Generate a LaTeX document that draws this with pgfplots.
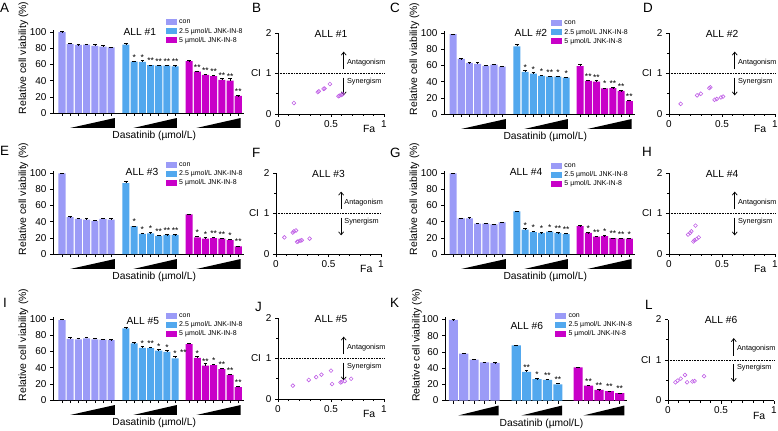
\documentclass[border=0pt]{standalone}
\usepackage{fontspec}
\setmainfont{Liberation Sans}
\usepackage{pgfplots}
\pgfplotsset{compat=1.18}
\usetikzlibrary{arrows.meta}

\definecolor{cCon}{HTML}{9B9BF7}
\definecolor{cLow}{HTML}{52A8EE}
\definecolor{cHigh}{HTML}{C800C8}
\definecolor{cPt}{HTML}{C060E6}

\newcommand{\fs}[1]{\fontsize{#1}{#1}\selectfont}

\pgfplotsset{
  every axis/.append style={
    scale only axis, axis x line*=bottom, axis y line*=left,
    axis line style={line width=0.6bp, -},
    tick style={black, line width=0.6bp},
    tick align=outside, major tick length=3bp, minor tick length=2bp,
    tick label style={font=\fs{10}},
    /pgf/number format/assume math mode=true,
    clip=false,
  },
  eb/.style={error bars/.cd, y dir=plus, y explicit,
    error bar style={line width=0.6bp, black},
    error mark options={rotate=90, mark size=1.8bp, line width=0.6bp, black}},
  pts/.style={only marks, mark=o, mark size=1.9bp, cPt, line width=0.6bp},
  barbase/.style={
    height=83.4bp, ymin=0, ymax=103,
    ybar, bar shift=0pt,
    ytick={0,20,...,100}, xticklabels={},
    ylabel={Relative cell viability (\%)},
    ylabel style={at={(axis description cs:-0.155,0.66)}, anchor=center, font=\fs{10.5}},
    xlabel={Dasatinib (µmol/L)},
    xlabel style={at={(axis description cs:0.53,0)}, anchor=center, yshift=-23bp, font=\fs{10.3}},
    nodes near coords, point meta=explicit symbolic,
    every node near coord/.append style={font=\fs{8.5}, inner sep=0.5bp, yshift=0.8bp},
    legend cell align=left,
    legend image code/.code={\fill[##1] (0bp,-3bp) rectangle (11bp,3bp);},
    legend style={draw=none, fill=none, inner sep=0pt, row sep=1bp,
      font=\fs{7}, nodes={inner sep=0.8bp, text height=5bp, text depth=1.5bp},
      /tikz/every odd column/.append style={column sep=1.5bp}},
  },
  bars7/.style={barbase, width=191bp, xmin=-0.6, xmax=22.7, bar width=0.86,
    xtick={0.5,1.5,2.5,3.5,4.5,5.5,6.5,8.3,9.3,10.3,11.3,12.3,13.3,14.3,16,17,18,19,20,21,22}},
  bars5/.style={barbase, width=182bp, xmin=-0.3, xmax=17.2, bar width=0.88,
    xtick={0.5,1.5,2.5,3.5,4.5,6.55,7.55,8.55,9.55,10.55,12.5,13.5,14.5,15.5,16.5}},
  sc/.style={width=106bp, height=81bp, xmin=0, xmax=1, ymin=0, ymax=2,
    xtick={0,0.5,1}, minor x tick num=4,
    ytick={0,1,2}, yticklabels={0,{CI\enspace1},2}, minor y tick num=1,
    xlabel={Fa},
    xlabel style={at={(axis description cs:0.86,0)}, anchor=center, yshift=-15bp, font=\fs{10.5}}},
}

\newcommand{\dose}[2]{\fill[black] (axis cs:#1,-18.5) -- (axis cs:#2,-18.5) -- (axis cs:#2,-6.2) -- cycle;}
\newcommand{\barlegend}{\legend{con,2.5 µmol/L JNK-IN-8,5 µmol/L JNK-IN-8}}
\newcommand{\scdeco}[1]{%
  \addplot[black, dash pattern=on 0.8bp off 0.8bp, line width=0.8bp] coordinates {(0,1) (1,1)};
  \draw[-{Straight Barb[length=3bp,width=5bp]}, line width=0.7bp] (axis cs:0.62,1.1) -- (axis cs:0.62,1.54);
  \draw[-{Straight Barb[length=3bp,width=5bp]}, line width=0.7bp] (axis cs:0.62,0.9) -- (axis cs:0.62,0.46);
  \node[anchor=west, font=\fs{7.3}, inner sep=0] at (axis cs:0.65,1.27) {Antagonism};
  \node[anchor=west, font=\fs{7.3}, inner sep=0] at (axis cs:0.65,0.8) {Synergism};
  \node[font=\fs{10.3}] at (axis description cs:0.5,0.99) {#1};
}

\begin{document}
\begin{tikzpicture}[x=1bp,y=1bp]
\useasboundingbox (0,0) rectangle (778,430);

% ---------- A ----------
\begin{axis}[bars7, at={(53bp,317bp)}, anchor=south west,
  legend style={at={(0.59,1.14)}, anchor=north west}]
\addplot[fill=cCon, draw=none, eb] table[x=x, y=y, y error=e, meta=s] {
x y e s
0.5 100 0.5 {}
1.5 85 1 {}
2.5 84 0.5 {}
3.5 84.5 0.5 {}
4.5 83 1.5 {}
5.5 82 1 {}
6.5 81 0.5 {}
};
\addplot[fill=cLow, draw=none, eb] table[x=x, y=y, y error=e, meta=s] {
x y e s
8.3 84.5 1 {}
9.3 63.5 0.5 *
10.3 63 1.5 *
11.3 59 0.5 **
12.3 58.5 0.5 **
13.3 58.5 0.5 **
14.3 57.5 1 **
};
\addplot[fill=cHigh, draw=none, eb] table[x=x, y=y, y error=e, meta=s] {
x y e s
16 64 0.5 {}
17 51 1 **
18 47 1 **
19 45.5 1.5 **
20 41 2 **
21 40 2.5 **
22 21 0.5 **
};
\barlegend
\node[font=\fs{10.3}] at (axis description cs:0.455,0.97) {ALL \#1};
\dose{1.5}{6.95}\dose{9.2}{14.5}\dose{16.9}{22.3}
\end{axis}

% ---------- B ----------
\begin{axis}[sc, at={(278bp,316bp)}, anchor=south west]
\addplot[pts] coordinates {(0.15,0.27) (0.375,0.54) (0.385,0.56) (0.43,0.62) (0.44,0.63) (0.49,0.74) (0.57,0.44) (0.58,0.45) (0.6,0.47) (0.61,0.49)};
\scdeco{ALL \#1}
\end{axis}

% ---------- C ----------
\begin{axis}[bars7, at={(444bp,316bp)}, anchor=south west,
  legend style={at={(0.56,1.14)}, anchor=north west}]
\addplot[fill=cCon, draw=none, eb] table[x=x, y=y, y error=e, meta=s] {
x y e s
0.5 98.5 0.5 {}
1.5 68 0.5 {}
2.5 63 0.5 {}
3.5 62 2 {}
4.5 59.5 0.5 {}
5.5 61 0.5 {}
6.5 58.5 1 {}
};
\addplot[fill=cLow, draw=none, eb] table[x=x, y=y, y error=e, meta=s] {
x y e s
8.3 83.5 2.5 {}
9.3 52 1.5 *
10.3 50 1.5 *
11.3 47 1 *
12.3 46 0.5 **
13.3 46 0.5 *
14.3 45 0.5 *
};
\addplot[fill=cHigh, draw=none, eb] table[x=x, y=y, y error=e, meta=s] {
x y e s
16 59 2.5 {}
17 41 1 **
18 40 2 **
19 31.5 0.5 *
20 32 0.5 **
21 28.5 0.5 **
22 16 1.5 **
};
\barlegend
\node[font=\fs{10.3}] at (axis description cs:0.455,0.97) {ALL \#2};
\dose{1.5}{6.95}\dose{9.2}{14.5}\dose{16.9}{22.3}
\end{axis}

% ---------- D ----------
\begin{axis}[sc, at={(669bp,316bp)}, anchor=south west]
\addplot[pts] coordinates {(0.11,0.25) (0.265,0.46) (0.30,0.50) (0.38,0.64) (0.39,0.66) (0.43,0.35) (0.45,0.37) (0.49,0.41) (0.51,0.43)};
\scdeco{ALL \#2}
\end{axis}

% ---------- E ----------
\begin{axis}[bars7, at={(53bp,176bp)}, anchor=south west,
  legend style={at={(0.59,1.12)}, anchor=north west}]
\addplot[fill=cCon, draw=none, eb] table[x=x, y=y, y error=e, meta=s] {
x y e s
0.5 99.5 0.5 {}
1.5 45.5 0.5 {}
2.5 43.5 0.5 {}
3.5 42.5 1 {}
4.5 41 0.5 {}
5.5 43.5 0.5 {}
6.5 42.5 1 {}
};
\addplot[fill=cLow, draw=none, eb] table[x=x, y=y, y error=e, meta=s] {
x y e s
8.3 87.5 2 {}
9.3 34 0.5 *
10.3 25 0.5 *
11.3 25.5 1 *
12.3 22.5 0.5 **
13.3 23.5 0.5 **
14.3 23.5 0.5 **
};
\addplot[fill=cHigh, draw=none, eb] table[x=x, y=y, y error=e, meta=s] {
x y e s
16 49 0.5 {}
17 20.5 1.5 *
18 19 1.5 *
19 19.5 1 **
20 19 0.5 **
21 17 1.5 *
22 9.5 0.5 **
};
\barlegend
\node[font=\fs{10.3}] at (axis description cs:0.466,0.98) {ALL \#3};
\dose{1.5}{6.95}\dose{9.2}{14.5}\dose{16.9}{22.3}
\end{axis}

% ---------- F ----------
\begin{axis}[sc, width=105bp, at={(276bp,176bp)}, anchor=south west]
\addplot[pts] coordinates {(0.08,0.41) (0.16,0.53) (0.17,0.56) (0.19,0.58) (0.2,0.30) (0.21,0.31) (0.23,0.33) (0.245,0.34) (0.32,0.38)};
\scdeco{ALL \#3}
\end{axis}

% ---------- G ----------
\begin{axis}[bars7, at={(444bp,176bp)}, anchor=south west,
  legend style={at={(0.56,1.11)}, anchor=north west}]
\addplot[fill=cCon, draw=none, eb] table[x=x, y=y, y error=e, meta=s] {
x y e s
0.5 99.5 0.3 {}
1.5 44 0.5 {}
2.5 44 1 {}
3.5 37.5 0.5 {}
4.5 37.5 0.3 {}
5.5 36.5 0.3 {}
6.5 39 0.5 {}
};
\addplot[fill=cLow, draw=none, eb] table[x=x, y=y, y error=e, meta=s] {
x y e s
8.3 52.5 0.5 {}
9.3 30 1.5 *
10.3 27 1 *
11.3 26 0.5 *
12.3 27.5 1 *
13.3 26 0.5 **
14.3 24.5 1 **
};
\addplot[fill=cHigh, draw=none, eb] table[x=x, y=y, y error=e, meta=s] {
x y e s
16 34.5 0.5 {}
17 26 0.5 *
18 21.5 0.3 **
19 22 0.5 *
20 19.5 0.3 **
21 19 0.3 **
22 19 0.5 *
};
\barlegend
\node[font=\fs{10.3}] at (axis description cs:0.43,0.98) {ALL \#4};
\dose{1.5}{6.95}\dose{9.2}{14.5}\dose{16.9}{22.3}
\end{axis}

% ---------- H ----------
\begin{axis}[sc, at={(669bp,176bp)}, anchor=south west]
\addplot[pts] coordinates {(0.18,0.48) (0.2,0.52) (0.21,0.56) (0.25,0.70) (0.23,0.31) (0.24,0.34) (0.26,0.37) (0.28,0.41)};
\scdeco{ALL \#4}
\end{axis}

% ---------- I ----------
\begin{axis}[bars7, at={(53bp,30bp)}, anchor=south west,
  legend style={at={(0.59,1.06)}, anchor=north west}]
\addplot[fill=cCon, draw=none, eb] table[x=x, y=y, y error=e, meta=s] {
x y e s
0.5 98.5 1 {}
1.5 75.5 2.5 {}
2.5 75 1.5 {}
3.5 76 2 {}
4.5 75 1 {}
5.5 74.5 0.3 {}
6.5 74 0.5 {}
};
\addplot[fill=cLow, draw=none, eb] table[x=x, y=y, y error=e, meta=s] {
x y e s
8.3 88.5 1 {}
9.3 70 1 {}
10.3 64.5 2 *
11.3 64 1.5 **
12.3 61 2 *
13.3 59.5 2.5 *
14.3 51.5 2.5 *
};
\addplot[fill=cHigh, draw=none, eb] table[x=x, y=y, y error=e, meta=s] {
x y e s
16 69 1.5 {}
17 52 1.5 *
18 42.5 3 **
19 43 1.5 *
20 38 1.5 **
21 31 0.5 **
22 16 1 **
};
\barlegend
\node[font=\fs{10.3}] at (axis description cs:0.47,0.95) {ALL \#5};
\node[font=\fs{8.5}, anchor=south, inner sep=0.5bp] at (axis cs:15.3,54) {**};
\dose{1.5}{6.95}\dose{9.2}{14.5}\dose{16.9}{22.3}
\end{axis}

% ---------- J ----------
\begin{axis}[sc, at={(278bp,31bp)}, anchor=south west]
\addplot[pts] coordinates {(0.14,0.33) (0.29,0.47) (0.36,0.54) (0.41,0.60) (0.50,0.70) (0.51,0.37) (0.59,0.41) (0.60,0.42) (0.63,0.44) (0.69,0.50)};
\scdeco{ALL \#5}
\end{axis}

% ---------- K ----------
\begin{axis}[bars5, at={(445bp,29.5bp)}, anchor=south west,
  legend style={at={(0.605,1.07)}, anchor=north west}]
\addplot[fill=cCon, draw=none, eb] table[x=x, y=y, y error=e, meta=s] {
x y e s
0.5 99.5 0.5 {}
1.5 58 0.5 {}
2.5 50.5 0.5 {}
3.5 47 0.3 {}
4.5 46.5 0.3 {}
};
\addplot[fill=cLow, draw=none, eb] table[x=x, y=y, y error=e, meta=s] {
x y e s
6.55 68 0.3 {}
7.55 35.5 1.5 **
8.55 26.5 0.5 *
9.55 25.5 0.5 **
10.55 20 1.5 **
};
\addplot[fill=cHigh, draw=none, eb] table[x=x, y=y, y error=e, meta=s] {
x y e s
12.5 41 0.5 {}
13.5 18.5 0.5 **
14.5 13 0.5 **
15.5 11.5 0.3 **
16.5 9 0.3 **
};
\barlegend
\node[font=\fs{10.3}] at (axis description cs:0.45,0.89) {ALL \#6};
\dose{0.96}{4.85}\dose{7.05}{10.95}\dose{13.0}{16.95}
\end{axis}

% ---------- L ----------
\begin{axis}[sc, at={(668bp,29.5bp)}, anchor=south west]
\addplot[pts] coordinates {(0.07,0.45) (0.09,0.49) (0.12,0.54) (0.16,0.63) (0.18,0.45) (0.23,0.47) (0.25,0.48) (0.34,0.60)};
\scdeco{ALL \#6}
\end{axis}

% panel letters
\foreach \l/\px/\py in {A/0/427, B/252/427, C/390/427, D/643/427,
  E/0/284, F/252/282, G/390/282, H/642/283,
  I/3/132, J/255/128, K/390/132, L/645/130}
  \node[anchor=north west, inner sep=0, font=\fs{13.5}] at (\px,\py) {\l};
\end{tikzpicture}
\end{document}
